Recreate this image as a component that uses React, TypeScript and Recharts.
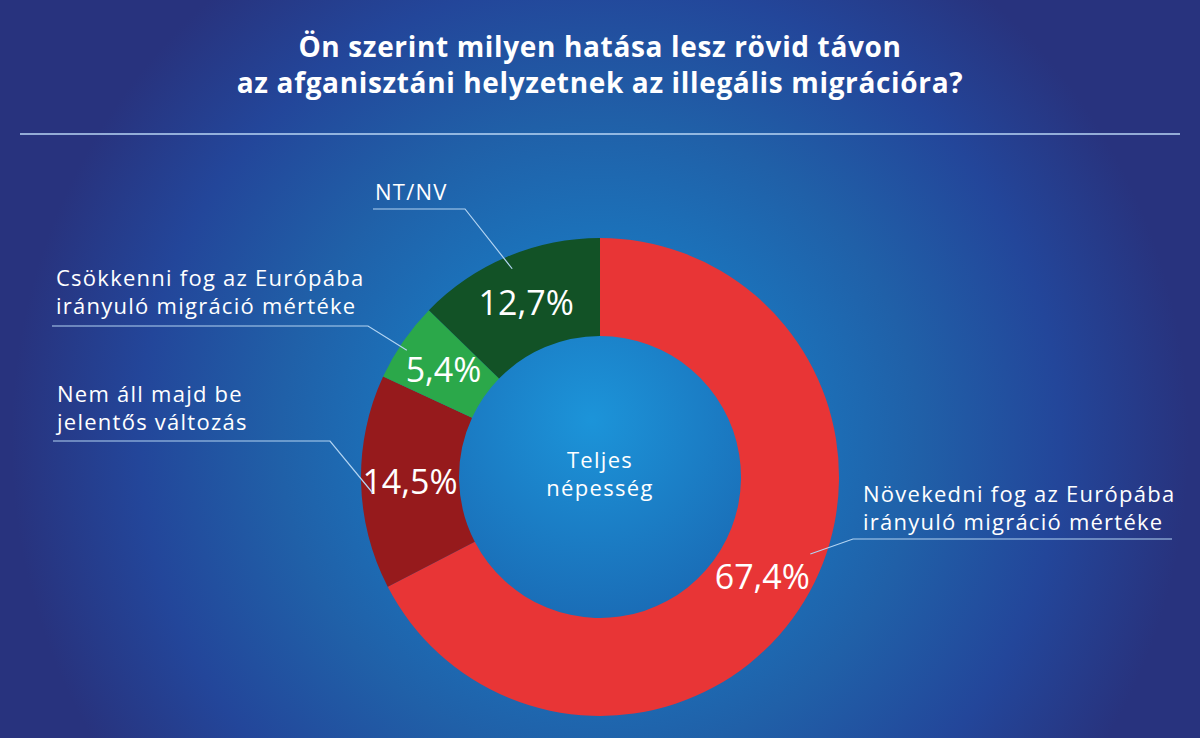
import React from 'react';
import { PieChart, Pie, Cell } from 'recharts';

const TITLE_LINES = ['Ön szerint milyen hatása lesz rövid távon', 'az afganisztáni helyzetnek az illegális migrációra?'];
const CATEGORY_LINES: string[][] = [
  ['Növekedni fog az Európába', 'irányuló migráció mértéke'],
  ['Nem áll majd be', 'jelentős változás'],
  ['Csökkenni fog az Európába', 'irányuló migráció mértéke'],
  ['NT/NV'],
];
const VALUES = [67.4, 14.5, 5.4, 12.7];
const COLORS = ['#e83536', '#961a1c', '#2ba84a', '#125226'];
const CENTER_LINES = ['Teljes', 'népesség'];

// callout layout (annotation positions, not data)
const CALLOUTS = [
  { tx: 863, ty: 502, lineY: 539, x1: 853, x2: 1172, tipAngleOffset: 11.2, tipR: 224 },
  { tx: 57, ty: 402, lineY: 441, x1: 53, x2: 330, tipAngleOffset: 2.7, tipR: 228 },
  { tx: 56, ty: 286, lineY: 326, x1: 52, x2: 368, tipAngleOffset: 1.3, tipR: 231 },
  { tx: 375, ty: 200, lineY: 209, x1: 373, x2: 465, tipAngleOffset: 0, tipR: 226 },
];

const data = VALUES.map((v, i) => ({ name: CATEGORY_LINES[i].join(' '), value: v, idx: i }));
const holeData = [{ name: CENTER_LINES.join(' '), value: 1 }];

const FONT = "'Open Sans', sans-serif";
const RAD = Math.PI / 180;

const renderLabel = (props: any) => {
  const { cx, cy, midAngle, innerRadius, outerRadius, index, value } = props;
  const mr = (innerRadius + outerRadius) / 2;
  const px = cx + mr * Math.cos(-midAngle * RAD);
  const py = cy + mr * Math.sin(-midAngle * RAD);
  const c = CALLOUTS[index];
  const ta = midAngle + c.tipAngleOffset;
  const tipX = cx + c.tipR * Math.cos(-ta * RAD);
  const tipY = cy + c.tipR * Math.sin(-ta * RAD);
  const elbowX = index === 0 ? c.x1 : c.x2;
  const farX = index === 0 ? c.x2 : c.x1;
  const lines = CATEGORY_LINES[index];
  return (
    <g>
      <text x={px} y={py} textAnchor="middle" dominantBaseline="central" fill="#ffffff" fontFamily={FONT} fontSize={34}>
        {value.toFixed(1).replace('.', ',') + '%'}
      </text>
      <polyline points={`${tipX},${tipY} ${elbowX},${c.lineY} ${farX},${c.lineY}`} fill="none" stroke="#b3d4f2" strokeWidth={1.2} />
      {lines.map((l, k) => (
        <text key={k} x={c.tx} y={c.ty + k * 27.5} fill="#ffffff" fontFamily={FONT} fontSize={22} letterSpacing={1.25}>
          {l}
        </text>
      ))}
    </g>
  );
};

const renderCenter = (props: any) => {
  const { cx, cy } = props;
  return (
    <g>
      {CENTER_LINES.map((l, k) => (
        <text key={k} x={cx} y={cy - 9 + k * 28} textAnchor="middle" fill="#ffffff" fontFamily={FONT} fontSize={22} letterSpacing={1.3}>
          {l}
        </text>
      ))}
    </g>
  );
};

export default function App() {
  return (
    <div
      style={{
        position: 'absolute',
        left: 0,
        top: 0,
        width: 1200,
        height: 738,
        overflow: 'hidden',
        background:
          'radial-gradient(circle 640px at 600px 440px, #1b92d8 0%, #1a78c0 25%, #2060a8 50%, #23469a 72%, #28337e 92%, #28337e 100%)',
      }}
    >
      <svg width={1200} height={738} style={{ position: 'absolute', left: 0, top: 0 }}>
        {TITLE_LINES.map((t, i) => (
          <text key={i} x={600} y={57 + i * 36} textAnchor="middle" fill="#ffffff" fontFamily={FONT} fontWeight={700} fontSize={28} letterSpacing={0.65}>
            {t}
          </text>
        ))}
        <line x1={20} x2={1180} y1={134} y2={134} stroke="#b8d6f5" strokeWidth={1.5} />
      </svg>
      <div style={{ position: 'absolute', left: 0, top: 0 }}>
        <PieChart width={1200} height={738} margin={{ top: 0, right: 0, bottom: 0, left: 0 }}>
          <defs>
            <radialGradient id="holeGrad" cx="0.47" cy="0.3" r="0.75">
              <stop offset="0%" stopColor="#1c94d9" />
              <stop offset="100%" stopColor="#1a6ab4" />
            </radialGradient>
          </defs>
          <Pie
            data={holeData}
            dataKey="value"
            cx={600}
            cy={477}
            innerRadius={0}
            outerRadius={142}
            stroke="none"
            isAnimationActive={false}
            label={renderCenter}
            labelLine={false}
          >
            <Cell fill="url(#holeGrad)" />
          </Pie>
          <Pie
            data={data}
            dataKey="value"
            cx={600}
            cy={477}
            innerRadius={141}
            outerRadius={239}
            startAngle={90}
            endAngle={-270}
            stroke="none"
            isAnimationActive={false}
            label={renderLabel}
            labelLine={false}
          >
            {data.map((d, i) => (
              <Cell key={i} fill={COLORS[i]} />
            ))}
          </Pie>
        </PieChart>
      </div>
    </div>
  );
}
